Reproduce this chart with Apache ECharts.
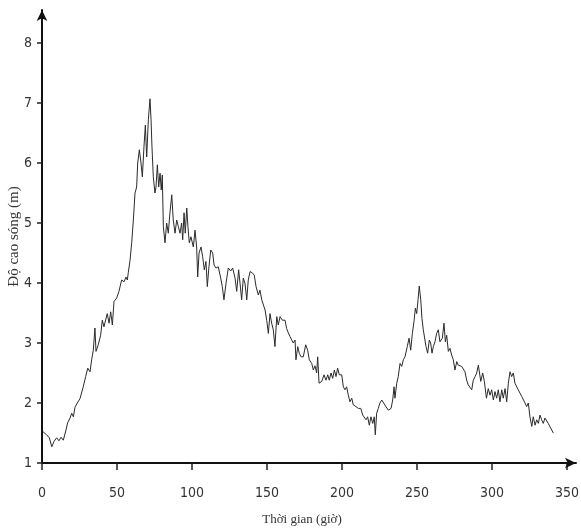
<!DOCTYPE html>
<html><head><meta charset="utf-8">
<script src="https://cdn.jsdelivr.net/npm/echarts@6/dist/echarts.min.js"></script>
<style>html,body{margin:0;padding:0;background:#fff}#c{width:581px;height:529px}</style>
</head><body><div id="c"></div>
<script>
const hours = [0.7,1.3,3.1,4.9,6.5,8,9.8,11.3,12.7,14.2,16,17.1,18.7,19.8,20.9,22,23.5,25.3,26.5,27.5,29.1,30.5,32,33.1,34.2,35.3,36,37.5,39.1,40.2,41.3,42.5,43.5,44.7,45.8,46.9,48,49.8,51.3,53.1,54.7,56,56.9,57.5,58.7,59.8,60.9,62,63.1,63.8,64.9,66,66.9,68,68.9,69.8,70.9,72,72.7,73.3,74.2,75.3,76,76.9,77.8,78.7,79.5,80.2,80.9,82,83.1,84.2,85.3,86.5,87.5,88.7,89.8,90.9,92,93.1,93.8,94.7,95.5,96.5,97.3,98.2,99.3,100.9,102,103.1,103.8,104.7,106,107.1,108.2,109.3,110.2,111.3,112.5,113.8,114.7,116,117.5,119,120.2,121.3,122.7,124.2,125.8,127.1,128.7,129.8,131.1,132,133.1,134.2,135.3,136.5,137.5,138.7,140.2,141.5,142.7,144.2,145.3,146.5,147.5,148.7,149.8,150.9,152,153.1,154.2,155.3,156.5,157.5,158.7,160.2,162,163.1,164.2,165.3,166.5,167.5,168.7,169.3,170.5,171.5,172.7,174.2,175.8,177.1,178.2,179.8,180.9,182,183.1,183.8,184.7,186.5,188,189.3,190.5,191.5,192.7,193.8,194.9,196,197.1,198.2,199.8,200.9,202,203.1,204.2,205.3,206.5,207.5,209.3,210.9,212.5,213.8,214.9,216,217.1,218.2,219.3,220.5,221.5,222.2,223.1,224.2,225.3,226.5,227.5,229.3,230.9,232.7,233.8,234.7,235.3,236.5,237.5,238.7,239.8,240.9,242,243.5,244.7,245.8,246.9,248,248.9,249.8,250.7,251.5,252.5,253.3,254.2,255.1,256,257.1,258.2,259.1,260,260.9,262,263.1,264.2,265.3,266.9,268,268.9,269.8,270.9,272,273.1,274.2,275.3,276.5,277.5,278.7,279.8,280.9,282,283.1,284.2,285.3,286.5,287.5,288.7,289.8,290.9,292.5,293.8,294.9,296.3,297.5,298.7,299.8,300.9,302,303.1,304.2,305.3,306.5,307.5,308.7,309.8,310.9,312,313.1,314.2,315.3,316.5,317.5,318.7,319.8,320.9,322,323.1,324.2,325.3,326.5,327.5,328.7,329.8,330.9,332,333.1,334.2,335.3,336.5,337.5,338.7,339.8,340.9];
const heights = [1.52,1.5,1.47,1.42,1.27,1.36,1.42,1.37,1.43,1.38,1.55,1.67,1.75,1.83,1.77,1.93,2.0,2.07,2.09,2.27,2.44,2.58,2.52,2.72,2.88,3.25,2.86,2.97,3.13,3.38,3.27,3.3,3.49,3.33,3.52,3.3,3.69,3.75,3.86,4.05,4.02,4.1,4.05,4.17,4.38,4.67,5.05,5.5,5.6,6.0,6.22,6.0,5.77,6.28,6.63,6.1,6.72,7.07,6.72,6.28,5.77,5.5,5.6,5.97,5.6,5.83,5.55,5.8,4.94,4.67,5.0,4.83,5.17,5.47,5.05,4.83,5.05,4.94,4.83,5.0,4.72,5.17,4.83,5.25,4.94,4.67,4.77,4.6,4.88,4.6,4.1,4.5,4.6,4.44,4.22,4.36,3.94,4.27,4.55,4.5,4.3,4.25,4.27,4.1,3.94,3.72,4.0,4.25,4.2,4.25,4.08,3.86,4.22,4.0,3.72,4.08,4.0,3.72,4.05,4.19,4.17,4.13,3.94,3.8,3.88,3.72,3.75,3.55,3.38,3.16,3.49,3.33,3.22,2.94,3.44,3.3,3.44,3.38,3.38,3.24,3.17,3.11,3.13,3.0,3.05,2.72,2.94,2.83,2.77,2.77,2.97,2.88,2.72,2.66,2.55,2.62,2.5,2.77,2.33,2.36,2.47,2.38,2.47,2.38,2.5,2.41,2.55,2.44,2.58,2.47,2.47,2.27,2.22,2.27,2.13,2.02,2.08,1.97,1.94,1.91,1.91,1.8,1.77,1.72,1.77,1.63,1.77,1.66,1.77,1.47,1.83,1.91,2.0,2.05,2.02,1.94,1.88,1.91,2.05,2.27,2.08,2.33,2.44,2.66,2.61,2.72,2.77,2.94,3.08,2.88,3.16,3.36,3.58,3.49,3.72,3.95,3.72,3.41,3.22,3.24,2.94,2.83,3.05,3.0,2.83,2.94,3.02,3.16,3.22,3.02,3.08,3.33,3.02,3.13,2.86,2.91,2.8,2.72,2.55,2.69,2.63,2.66,2.61,2.63,2.52,2.38,2.3,2.33,2.22,2.38,2.44,2.5,2.63,2.36,2.5,2.36,2.08,2.24,2.13,2.22,2.05,2.19,2.08,2.22,2.02,2.22,2.08,2.24,2.02,2.33,2.52,2.44,2.5,2.33,2.36,2.22,2.24,2.11,2.13,2.0,1.94,2.0,1.77,1.61,1.77,1.63,1.72,1.66,1.8,1.72,1.66,1.75,1.77,1.66,1.69,1.55,1.5];
const xTicks = [0,50,100,150,200,250,300,350];
const yTicks = [1,2,3,4,5,6,7,8];
const xTitle = 'Thời gian (giờ)';
const yTitle = 'Độ cao sóng (m)';

const data = hours.map((h, i) => [h, heights[i]]);
const numFont = "'Liberation Sans Narrow','DejaVu Sans Condensed','Liberation Sans',sans-serif";
const chart = echarts.init(document.getElementById('c'), null, {renderer: 'canvas'});
chart.setOption({
  animation: false,
  backgroundColor: '#ffffff',
  grid: {left: 42, right: 5, top: 10, bottom: 66, containLabel: false, outerBoundsMode: 'none'},
  xAxis: {
    type: 'value', min: 0, max: 356,
    axisLine: {show: true, onZero: false, symbol: ['none', 'arrow'], symbolSize: [8, 11],
      lineStyle: {color: '#111', width: 2}},
    axisTick: {show: true, inside: false, length: 7, customValues: xTicks,
      lineStyle: {color: '#222', width: 1.5}},
    axisLabel: {customValues: xTicks, margin: 23, fontSize: 14, color: '#333', fontFamily: numFont},
    splitLine: {show: false},
    name: xTitle, nameLocation: 'middle', nameGap: 50, nameMoveOverlap: false,
    nameTextStyle: {fontFamily: "'Liberation Serif','DejaVu Serif',serif", fontSize: 13, color: '#333', padding: [0, 14, 0, 0]}
  },
  yAxis: {
    type: 'value', min: 1, max: 8.55,
    axisLine: {show: true, onZero: false, symbol: ['none', 'arrow'], symbolSize: [8, 11],
      lineStyle: {color: '#111', width: 2}},
    axisTick: {show: true, inside: false, length: 5, customValues: yTicks,
      lineStyle: {color: '#222', width: 1.5}},
    axisLabel: {customValues: yTicks, margin: 10, fontSize: 14, color: '#333', fontFamily: numFont},
    splitLine: {show: false},
    name: yTitle, nameLocation: 'middle', nameRotate: 90, nameGap: 20, nameMoveOverlap: false,
    nameTextStyle: {fontFamily: "'Liberation Serif','DejaVu Serif',serif", fontSize: 15, color: '#333'}
  },
  series: [{
    type: 'line', data: data, showSymbol: false, smooth: false,
    lineStyle: {color: '#2b2b2b', width: 1}
  }]
});
</script>
</body></html>
